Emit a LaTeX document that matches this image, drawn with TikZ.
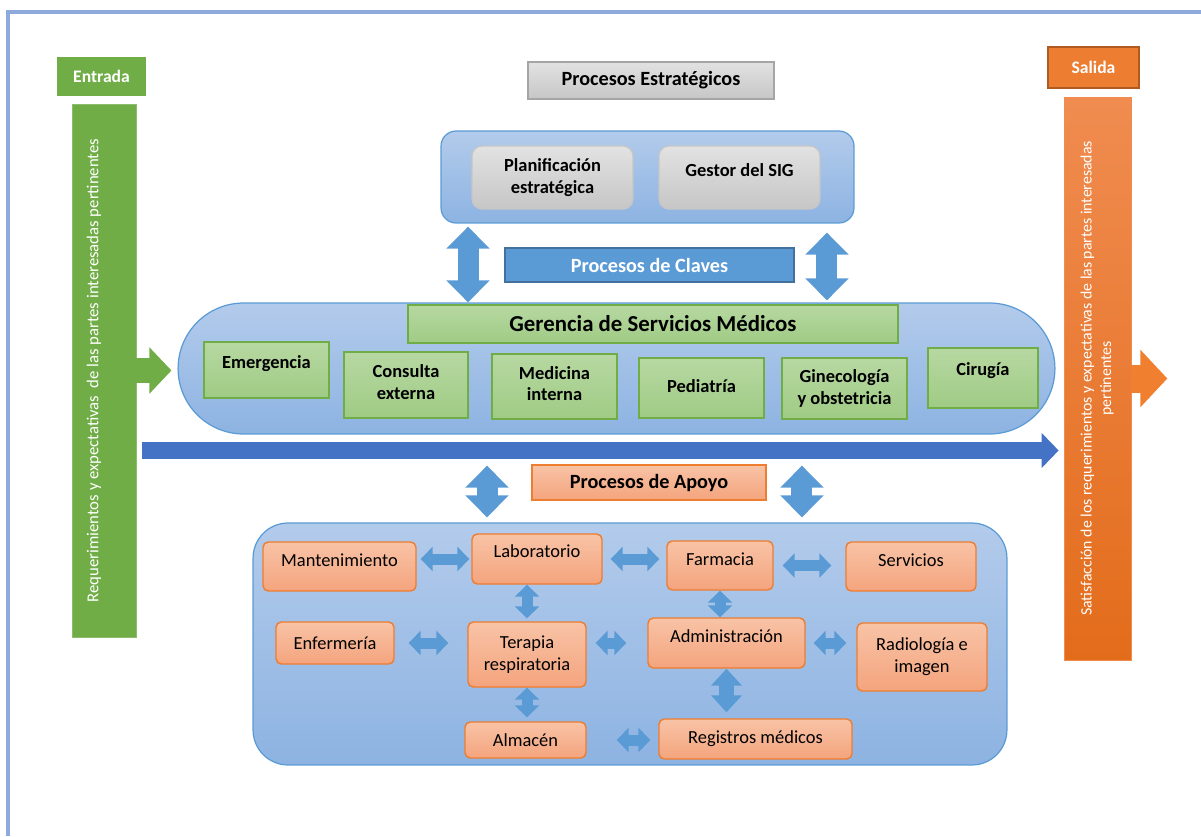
\documentclass[tikz,border=0pt]{standalone}
\usepackage{fontspec}
\setmainfont{Carlito}
\usetikzlibrary{arrows.meta}

\definecolor{marco}{HTML}{8EA9DB}
\definecolor{azulC}{HTML}{B3CBEB}
\definecolor{azulM}{HTML}{8DB3E2}
\definecolor{azulB}{HTML}{5B9BD5}
\definecolor{azulO}{HTML}{41719C}
\definecolor{azulF}{HTML}{4472C4}
\definecolor{verde}{HTML}{70AD47}
\definecolor{verdeC}{HTML}{B7D8A2}
\definecolor{verdeM}{HTML}{9FCB84}
\definecolor{naranja}{HTML}{ED7D31}
\definecolor{naranjaO}{HTML}{AE5A21}
\definecolor{naranjaC}{HTML}{F8C3A6}
\definecolor{naranjaM}{HTML}{F4A47D}
\definecolor{barraC}{HTML}{F08C50}
\definecolor{barraM}{HTML}{E36C1B}
\definecolor{flechaN}{HTML}{F08030}
\definecolor{grisC}{HTML}{E2E2E2}
\definecolor{grisM}{HTML}{C6C6C6}
\definecolor{grisB}{HTML}{A5A5A5}

\newcommand\fcaja{\fontsize{10.5}{12.5}\selectfont}
\newcommand\ftitulo{\fontsize{11.5}{13}\selectfont\bfseries}

\tikzset{
    contenedor/.style={
        draw=azulB, line width=0.7pt,
        top color=azulC, bottom color=azulM
    },
    solido/.style={
        line width=0.8pt, text=white,
        font=\fontsize{10}{12}\selectfont\bfseries
    },
    gris/.style={
        draw=grisB, line width=0.7pt,
        top color=grisC, bottom color=grisM
    },
    grisint/.style={
        gris, draw=grisM, rounded corners=0.2cm,
        font=\fcaja\bfseries, align=center
    },
    servicio/.style={
        draw=verde, line width=0.8pt,
        top color=verdeC, bottom color=verdeM,
        font=\fcaja\bfseries, align=center
    },
    soporte/.style={
        draw=naranja, line width=0.8pt, rounded corners=3pt,
        top color=naranjaC, bottom color=naranjaM,
        font=\fcaja, align=center
    },
    etq/.style={anchor=north, yshift=-0.13cm, font=\fcaja},
    etqb/.style={etq, font=\fcaja\bfseries},
    dblS/.style={
        azulB, line width=0.22cm,
        arrows={Triangle[width=0.48cm,length=0.24cm]-Triangle[width=0.48cm,length=0.24cm]}
    },
    dblM/.style={
        azulB, line width=0.3cm,
        arrows={Triangle[width=0.6cm,length=0.34cm]-Triangle[width=0.6cm,length=0.34cm]}
    },
    dblL/.style={
        azulB, line width=0.42cm,
        arrows={Triangle[width=0.84cm,length=0.44cm]-Triangle[width=0.84cm,length=0.44cm]}
    },
    flujo/.style={
        azulF, line width=0.34cm,
        arrows={-Triangle[width=0.68cm,length=0.34cm]}
    }
}

\begin{document}
\begin{tikzpicture}[
    x=0.02cm, y=-0.02cm
]
    \useasboundingbox (0,0) rectangle (1201,836);

    % Marco
    \draw[marco, line width=0.08cm] (8,836) -- (8,12) -- (1201,12);

    % Entrada
    \node[solido, fill=verde, draw=verde, minimum width=1.74cm, minimum height=0.74cm]
        (entrada) at (101.5,76.5) {Entrada};
    \node[fill=verde, draw=verde!80!white, minimum width=1.28cm, minimum height=10.66cm,
        text=white, font=\fontsize{9.5}{11}\selectfont]
        (entbar) at (104,370.5)
        {\rotatebox{90}{\raisebox{0.2cm}[\height][\depth]{Requerimientos y expectativas\ \ de las partes interesadas pertinentes}}};

    % Salida
    \node[solido, fill=naranja, draw=naranjaO, minimum width=1.82cm, minimum height=0.82cm]
        (salida) at (1093.5,67.5) {Salida};
    \node[top color=barraC, bottom color=barraM, draw=barraC, minimum width=1.34cm,
        minimum height=11.26cm, text=white, font=\fontsize{9}{11}\selectfont]
        (salbar) at (1097.5,378.5)
        {\rotatebox{90}{\begin{tabular}{@{}c@{}}Satisfacción de los requerimientos y expectativas de las partes interesadas\\pertinentes\end{tabular}}};

    % Procesos estrategicos
    \node[gris, minimum width=4.92cm, minimum height=0.74cm, font=\ftitulo]
        (pe) at (651,80.5) {Procesos Estratégicos};
    \node[contenedor, rounded corners=0.3cm, minimum width=8.26cm, minimum height=1.84cm]
        (strat) at (647.5,177) {};
    \node[grisint, minimum width=3.22cm, minimum height=1.26cm]
        (plan) at (552.5,177.5) {Planificación\\estratégica};
    \node[grisint, minimum width=3.22cm, minimum height=1.26cm,
        label={[etqb, yshift=-0.1cm]north:Gestor del SIG}]
        (sig) at (739.5,177.5) {};

    % Procesos claves
    \node[fill=azulB, draw=azulO, line width=0.7pt, minimum width=5.78cm, minimum height=0.68cm,
        text=white, font=\ftitulo]
        (claves) at (649.5,265) {Procesos de Claves};
    \node[contenedor, rounded corners=1.31cm, minimum width=17.54cm, minimum height=2.62cm]
        (pill) at (616.5,368.5) {};
    \node[servicio, minimum width=9.8cm, minimum height=0.76cm,
        font=\fontsize{13}{15}\selectfont\bfseries]
        (ger) at (653,324) {Gerencia de Servicios Médicos};
    \node[servicio, minimum width=2.5cm, minimum height=1.12cm,
        label={[etqb, yshift=-0.03cm]north:Emergencia}]
        (emer) at (266.5,370) {};
    \node[servicio, minimum width=2.48cm, minimum height=1.32cm, text depth=0.12cm]
        (cons) at (406,385) {Consulta\\externa};
    \node[servicio, minimum width=2.5cm, minimum height=1.3cm, text depth=0.12cm]
        (medi) at (554.5,386.5) {Medicina\\interna};
    \node[servicio, minimum width=2.5cm, minimum height=1.2cm,
        label={[etqb, yshift=-0.2cm]north:Pediatría}]
        (pedi) at (701.5,388) {};
    \node[servicio, minimum width=2.5cm, minimum height=1.22cm]
        (gine) at (844.5,388.5) {Ginecología\\y obstetricia};
    \node[servicio, minimum width=2.2cm, minimum height=1.2cm,
        label={[etqb, yshift=-0.06cm]north:Cirugía}]
        (ciru) at (983,378) {};

    % Procesos de apoyo
    \node[soporte, rounded corners=0pt, minimum width=4.68cm, minimum height=0.7cm, font=\ftitulo]
        (apoyo) at (649,482.5) {Procesos de Apoyo};
    \node[contenedor, rounded corners=0.7cm, minimum width=15.08cm, minimum height=4.84cm]
        (sop) at (630,644) {};
    \node[soporte, minimum width=3.06cm, minimum height=0.98cm, label={[etq]north:Mantenimiento}]
        (mant) at (339.5,566.5) {};
    \node[soporte, minimum width=2.6cm, minimum height=1cm, label={[etq, yshift=0.02cm]north:Laboratorio}]
        (lab) at (537,559) {};
    \node[soporte, minimum width=2.12cm, minimum height=0.98cm, label={[etq]north:Farmacia}]
        (farm) at (720,565.5) {};
    \node[soporte, minimum width=2.6cm, minimum height=0.98cm, label={[etq]north:Servicios}]
        (serv) at (911,566.5) {};
    \node[soporte, minimum width=2.36cm, minimum height=0.84cm]
        (enfe) at (335,643) {Enfermería};
    \node[soporte, minimum width=2.36cm, minimum height=1.3cm]
        (tera) at (527,654.5) {Terapia\\respiratoria};
    \node[soporte, minimum width=3.14cm, minimum height=1cm, label={[etq]north:Administración}]
        (admi) at (726.5,643) {};
    \node[soporte, minimum width=2.6cm, minimum height=1.36cm]
        (radi) at (922,657) {Radiología e\\imagen};
    \node[soporte, minimum width=2.42cm, minimum height=0.72cm]
        (alma) at (525.5,740) {Almacén};
    \node[soporte, minimum width=3.86cm, minimum height=0.8cm]
        (regi) at (755.5,739) {Registros médicos};

    % Flechas principales
    \coordinate (f0) at ([yshift=-1.6cm]entbar.east);
    \draw[flujo, shorten <=0.12cm, shorten >=0.1cm] (f0) -- (f0 -| salbar.west);
    \draw[verde, line width=0.5cm, arrows={-Triangle[width=0.9cm,length=0.44cm]},
        shorten >=0.12cm] (entbar.east) -- (entbar.east -| pill.west);
    \coordinate (fin) at ([xshift=0.72cm]salbar.east);
    \draw[flechaN, line width=0.56cm,
        arrows={-Triangle[width=1.12cm,length=0.54cm]}] (salbar.east) -- (fin);

    % Flechas entre niveles
    \coordinate (e1) at ([xshift=-3.59cm]strat.south);
    \coordinate (e2) at ([xshift=3.59cm]strat.south);
    \draw[dblL, shorten <=0.06cm] (e1) -- (e1 |- pill.north);
    \draw[dblL, shorten <=0.18cm, shorten >=0.04cm] (e2) -- (e2 |- pill.north);
    \coordinate (a1) at ([xshift=-2.59cm]pill.south);
    \coordinate (a2) at ([xshift=3.71cm]pill.south);
    \draw[dblL, shorten <=0.62cm, shorten >=0.1cm] (a1) -- (a1 |- sop.north);
    \draw[dblL, shorten <=0.62cm, shorten >=0.1cm] (a2) -- (a2 |- sop.north);

    % Flechas de apoyo
    \draw[dblS, shorten <=0.08cm, shorten >=0.04cm] (mant.east |- lab.west) -- (lab.west);
    \draw[dblS, shorten <=0.16cm, shorten >=0.14cm] (lab.east) -- (lab.east -| farm.west);
    \draw[dblS, shorten <=0.18cm, shorten >=0.28cm] (farm.east) -- (farm.east -| serv.west);
    \draw[dblS, shorten <=0.28cm, shorten >=0.38cm] (enfe.east) -- (enfe.east -| tera.west);
    \draw[dblS, shorten <=0.18cm, shorten >=0.42cm] (admi.west -| tera.east) -- (admi.west);
    \draw[dblS, shorten <=0.16cm, shorten >=0.2cm] (admi.east) -- (admi.east -| radi.west);
    \draw[dblS, shorten <=0.6cm, shorten >=0.16cm] (alma.east) -- (alma.east -| regi.west);
    \draw[dblS, shorten >=0.06cm] (lab.south -| tera.north) -- (tera.north);
    \draw[dblS, shorten >=0.08cm] (tera.south) -- (tera.south |- alma.north);
    \draw[dblS] (farm.south) -- (farm.south |- admi.north);
    \draw[dblM, shorten >=0.12cm] (admi.south) -- (admi.south |- regi.north);

\end{tikzpicture}
\end{document}
